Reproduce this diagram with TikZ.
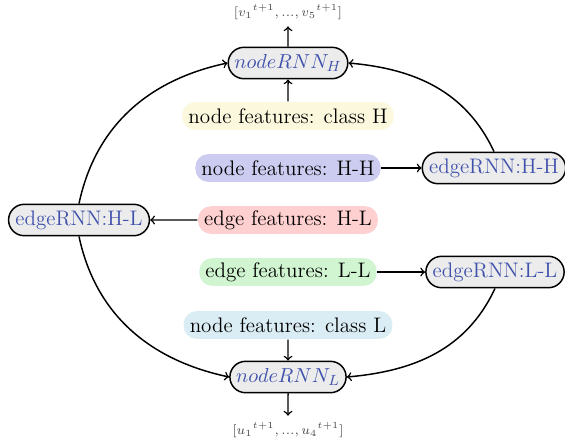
\documentclass[tikz,border=0pt]{standalone}
\usetikzlibrary{shapes.misc}
\definecolor{rnnblue}{RGB}{63,81,171}
\definecolor{featyellow}{RGB}{252,248,222}
\definecolor{featpurple}{RGB}{204,204,240}
\definecolor{featpink}{RGB}{255,208,208}
\definecolor{featgreen}{RGB}{208,245,208}
\definecolor{featcyan}{RGB}{218,236,244}
\begin{document}
\begin{tikzpicture}[x=0.019027cm, y=-0.019027cm,
    every node/.style={font=\fontsize{11.4}{13}\selectfont},
    rnnbox/.style={rounded rectangle, draw, thick, fill=gray!15, text=rnnblue, minimum height=17pt, inner xsep=2pt, inner ysep=2pt},
    featbox/.style={rounded corners=7pt, fill=#1, minimum height=15pt, inner ysep=2pt},
    outlabel/.style={text=black!70, font=\scriptsize},
    every path/.style={thick}]
\useasboundingbox (0,0) rectangle (565,443);

% outputs
\node[outlabel] (vout) at (288,12) {$[{v_1}^{t+1},...,{v_5}^{t+1}]$};
\node[outlabel] (uout) at (288,430) {$[{u_1}^{t+1},...,{u_4}^{t+1}]$};

% node RNNs
\node[rnnbox] (nodeH) at (288,63) {$nodeRNN_H$};
\node[rnnbox] (nodeL) at (288,377) {$nodeRNN_L$};

% edge RNNs
\node[rnnbox] (edgeHH) at (494,168) {edgeRNN:H-H};
\node[rnnbox] (edgeHL) at (79,220) {edgeRNN:H-L};
\node[rnnbox] (edgeLL) at (495,272) {edgeRNN:L-L};

% features
\node[featbox=featyellow] (featH) at (288,116) {node features: class H};
\node[featbox=featpurple] (featHH) at (288,168) {node features: H-H};
\node[featbox=featpink] (featHL) at (288,220) {edge features: H-L};
\node[featbox=featgreen] (featLL) at (288,272) {edge features: L-L};
\node[featbox=featcyan] (featL) at (288,325) {node features: class L};

% straight arrows
\draw[->] (nodeH) -- (vout);
\draw[->] (featH) -- (nodeH);
\draw[->] (featHH) -- (edgeHH);
\draw[->] (featHL) -- (edgeHL);
\draw[->] (featLL) -- (edgeLL);
\draw[->] (featL) -- (nodeL);
\draw[->] (nodeL) -- (uout);

% curved arrows
\draw[->] (edgeHL.north) to[out=78,in=192] (nodeH.west);
\draw[->] (edgeHL.south) to[out=-78,in=168] (nodeL.west);
\draw[->] (edgeHH.north) to[out=115,in=-5] (nodeH.east);
\draw[->] (edgeLL.south) to[out=-115,in=5] (nodeL.east);
\end{tikzpicture}
\end{document}
